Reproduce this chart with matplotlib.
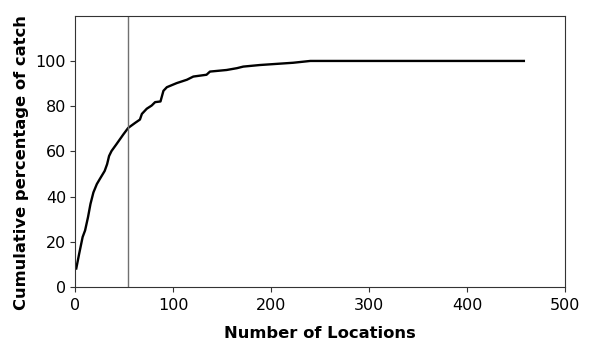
import matplotlib.pyplot as plt

plt.rcParams['font.family'] = ['DejaVu Sans']

# Ranked locations and cumulative share of the catch (%)
locations = [1, 4, 7.5, 10, 13, 15.5, 18.5, 22, 25, 30, 32.5, 34.5, 37, 42, 49,
             54, 61, 66, 68, 73, 78, 81.5, 87, 90, 93.5, 103.5, 114, 120.5, 134,
             137.5, 154.5, 165, 171.5, 188.5, 205.5, 222.5, 240, 300, 400, 458]
cum_percent = [8.3, 14.9, 22.2, 25.1, 31.0, 36.8, 41.9, 45.6, 47.8, 51.4, 54.4,
               58.0, 60.2, 63.2, 67.5, 70.4, 72.6, 74.1, 76.6, 78.9, 80.3, 81.8,
               82.1, 86.8, 88.4, 90.2, 91.7, 93.1, 93.9, 95.3, 96.0, 96.8, 97.5,
               98.2, 98.7, 99.2, 100.0, 100.0, 100.0, 100.0]

cutoff = 54  # number of locations marked by the vertical line

fig = plt.figure(figsize=(5.9, 3.46), dpi=100)
ax = fig.add_axes([0.1276, 0.1697, 0.830, 0.785])

ax.plot(locations, cum_percent, color='black', linewidth=1.7, solid_joinstyle='round')
ax.axvline(cutoff, color='#707070', linewidth=1.0)

ax.set_xlim(0, 500)
ax.set_ylim(0, 120)
ax.set_xticks([0, 100, 200, 300, 400, 500])
ax.set_yticks([0, 20, 40, 60, 80, 100])

for side in ax.spines.values():
    side.set_color('#333333')
    side.set_linewidth(0.8)
ax.tick_params(direction='out', length=3.6, width=0.8, color='#333333',
               labelsize=11.5, pad=3)
ax.tick_params(axis='x', pad=4)

ax.set_xlabel('Number of Locations', fontsize=11.8, fontweight='bold')
ax.set_ylabel('Cumulative percentage of catch', fontsize=11.8, fontweight='bold')
ax.xaxis.set_label_coords(0.5, -0.142)
ax.yaxis.set_label_coords(-0.095, 0.458)

fig.savefig('out.png', dpi=100)
